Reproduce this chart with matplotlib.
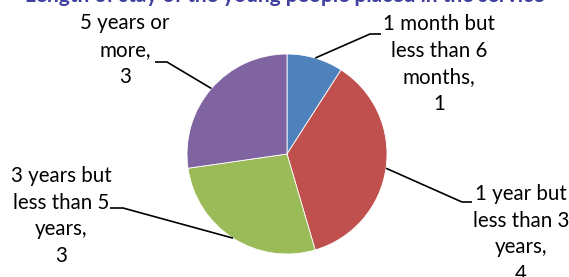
import numpy as np
import matplotlib
matplotlib.use('Agg')
import matplotlib.pyplot as plt

# Pie data (clockwise from 12 o'clock)
labels = ['1 month but\nless than 6\nmonths,', '1 year but\nless than 3\nyears,',
          '3 years but\nless than 5\nyears,', '5 years or\nmore,']
values = [1, 4, 3, 3]
colors = ['#4F81BD', '#C0504D', '#9BBB59', '#8064A2']
title = 'Length of stay of the young people placed in the service'

W, H = 569, 277
cx, cy, r = 287, H - 154, 100
# label centres (pixels from top-left) and leader line elbow points
label_pos = [(439, 64), (521, 234), (61, 216), (125, 50)]
elbows = [((370, 34), (381, 34)), ((462, 202), (472, 202)),
          ((123, 208), (110, 208)), ((167, 62), (155, 62))]

plt.rcParams['font.family'] = ['Lato', 'DejaVu Sans']
fig = plt.figure(figsize=(W / 100, H / 100), dpi=100)
ax = fig.add_axes([0, 0, 1, 1])

wedges, _ = ax.pie(values, colors=colors, startangle=90, counterclock=False,
                   center=(cx, cy), radius=r,
                   wedgeprops=dict(edgecolor='white', linewidth=0.6))
ax.set_xlim(0, W)
ax.set_ylim(0, H)
ax.set_aspect('equal')
ax.axis('off')

for w, lab, v, (lx, ly), (e1, e2) in zip(wedges, labels, values, label_pos, elbows):
    mid = np.deg2rad((w.theta1 + w.theta2) / 2)
    px, py = cx + r * np.cos(mid), cy + r * np.sin(mid)
    ax.plot([px, e1[0], e2[0]], [py, H - e1[1], H - e2[1]], color='black', lw=1.2,
            solid_capstyle='butt')
    ax.text(lx, H - ly, f'{lab}\n{v}', ha='center', va='center', fontsize=14.8,
            linespacing=1.42, color='black')

# title sits mostly above the top edge, as in the original crop
fig.text(0.5, 1 - 1.5 / H, title, ha='center', va='baseline', fontsize=15,
         fontweight='bold', color='#3F3F9F')

fig.savefig('out.png', dpi=100)
